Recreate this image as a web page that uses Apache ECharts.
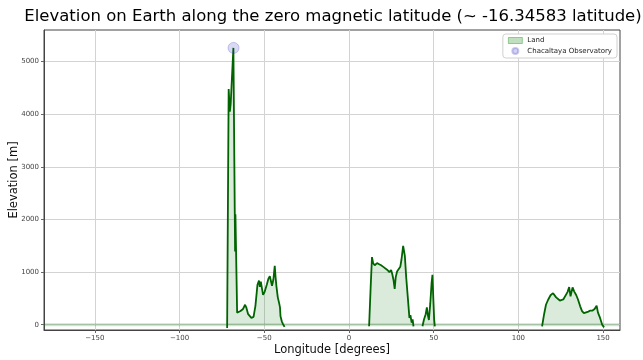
<!DOCTYPE html>
<html>
<head>
<meta charset="utf-8">
<script src="https://cdn.jsdelivr.net/npm/echarts@6/dist/echarts.min.js"></script>
<style>
  html, body { margin: 0; padding: 0; background: #fff; }
  #chart { width: 643px; height: 360px; }
</style>
</head>
<body>
<div id="chart"></div>
<script>
// Elevation profile along the magnetic equator (~ -16.34583 latitude)
const southAmericaLon = [-71.9, -71.0, -70.3, -69.8, -68.2, -67.4, -67.2, -67.0, -66.0, -65.0, -64.0, -62.5, -61.3, -60.5, -59.5, -57.6, -56.3, -55.2, -54.0, -53.1, -52.6, -52.0, -51.3, -50.7, -49.8, -48.5, -47.5, -46.7, -45.4, -44.6, -43.8, -43.3, -42.8, -42.0, -41.2, -40.7, -40.4, -39.6, -38.9, -38.0];
const southAmericaElev = [-60, 4480, 4050, 4200, 5260, 2150, 1390, 2100, 230, 250, 260, 300, 380, 320, 200, 130, 150, 360, 760, 840, 720, 820, 680, 570, 620, 760, 880, 920, 740, 860, 1120, 900, 730, 520, 410, 330, 160, 60, 10, -40];

const africaLon = [11.9, 12.8, 13.6, 14.3, 15.2, 16.6, 17.8, 19.0, 20.5, 21.5, 22.5, 23.9, 24.9, 25.6, 26.3, 27.0, 27.6, 28.4, 29.4, 30.3, 31.0, 32.0, 33.0, 33.8, 34.7, 35.7, 36.3, 37.0, 37.6, 38.1];
const africaElev = [-30, 700, 1285, 1170, 1130, 1170, 1150, 1130, 1095, 1070, 1045, 1000, 1040, 960, 850, 680, 900, 1010, 1000, 1100, 1235, 1500, 1310, 900, 540, 130, 180, 40, 100, -30];

const madagascarLon = [43.4, 44.3, 45.3, 46.0, 46.6, 47.2, 48.0, 48.8, 49.3, 49.8, 50.3, 50.7];
const madagascarElev = [-30, 100, 200, 330, 180, 90, 400, 800, 950, 500, 100, -30];

const australiaLon = [114.0, 115.2, 116.3, 117.5, 119.0, 120.5, 121.3, 122.3, 123.3, 124.5, 125.5, 126.5, 127.6, 129.0, 130.0, 130.8, 132.0, 133.0, 134.2, 135.2, 136.5, 137.6, 138.7, 139.8, 141.3, 142.5, 143.8, 145.0, 146.2, 147.0, 148.0, 149.5, 150.6];
const australiaElev = [-30, 200, 380, 470, 560, 600, 570, 520, 500, 460, 450, 480, 450, 620, 715, 540, 710, 630, 560, 480, 350, 260, 220, 240, 250, 270, 270, 300, 360, 230, 150, 0, -50];

const observatoryLon = [-68.13];
const observatoryElev = [5260];

const xTicks = [-150, -100, -50, 0, 50, 100, 150];
const yTicks = [0, 1000, 2000, 3000, 4000, 5000];

const pairs = (xs, ys) => xs.map((x, i) => [x, ys[i]]);
const minus = v => String(v).replace('-', '\u2212');

const landLine = '#006400';
const landFill = 'rgba(0,110,0,0.2)';
const font = 'DejaVu Sans';

function landSeries(data) {
  return {
    name: 'Land',
    type: 'line',
    data: data,
    symbol: 'none',
    lineStyle: { color: landLine, width: 1.8 },
    itemStyle: { color: landLine },
    areaStyle: { color: landFill, origin: 0 },
    z: 3
  };
}

const chart = echarts.init(document.getElementById('chart'), null, { renderer: 'canvas' });
chart.setOption({
  animation: false,
  title: {
    text: 'Elevation on Earth along the zero magnetic latitude (~ -16.34583 latitude)',
    left: 328, textAlign: 'center', top: 3,
    textStyle: { fontFamily: font, fontSize: 16.5, fontWeight: 'normal', color: '#000' }
  },
  grid: {
    left: 44, right: 23, top: 30, bottom: 30,
    outerBoundsMode: 'none', containLabel: false,
    show: true, borderColor: '#444', borderWidth: 1, backgroundColor: 'transparent'
  },
  legend: {
    right: 26, top: 34,
    orient: 'vertical',
    itemGap: 3, itemWidth: 14, itemHeight: 6,
    padding: [3, 5, 3, 5],
    borderColor: '#d0d0d0', borderWidth: 1, borderRadius: 3,
    backgroundColor: '#fff',
    textStyle: { fontFamily: font, fontSize: 7, color: '#222' },
    data: [
      { name: 'Land', icon: 'rect', itemStyle: { color: 'rgba(0,128,0,0.25)', borderColor: 'rgba(0,128,0,0.35)', borderWidth: 1 } },
      { name: 'Chacaltaya Observatory', icon: 'circle', itemStyle: { color: 'rgba(40,40,190,0.25)' } }
    ]
  },
  xAxis: {
    type: 'value', min: -180, max: 160,
    name: 'Longitude [degrees]', nameLocation: 'middle', nameGap: 14, nameMoveOverlap: false,
    nameTextStyle: { fontFamily: font, fontSize: 11.5, color: '#111' },
    axisLine: { onZero: false, lineStyle: { color: '#444' } },
    axisTick: { show: true, length: 3, customValues: xTicks, lineStyle: { color: '#666' } },
    axisLabel: { customValues: xTicks, fontFamily: font, fontSize: 7, color: '#444', margin: 5, formatter: minus },
    splitLine: { show: true, lineStyle: { color: '#d3d3d3', width: 1 } }
  },
  yAxis: {
    type: 'value', min: -100, max: 5600,
    name: 'Elevation [m]', nameLocation: 'middle', nameGap: 24, nameMoveOverlap: false,
    nameTextStyle: { fontFamily: font, fontSize: 11.5, color: '#111' },
    axisLine: { show: true, onZero: false, lineStyle: { color: '#444' } },
    axisTick: { show: true, length: 3, customValues: yTicks, lineStyle: { color: '#666' } },
    axisLabel: { customValues: yTicks, fontFamily: font, fontSize: 7, color: '#444', margin: 5, formatter: minus },
    splitLine: { show: true, lineStyle: { color: '#d3d3d3', width: 1 } }
  },
  series: [
    {
      name: 'sea level',
      type: 'line',
      data: [[-180, 0], [160, 0]],
      symbol: 'none', silent: true,
      lineStyle: { color: 'rgba(0,128,0,0.2)', width: 3 },
      z: 2
    },
    landSeries(pairs(southAmericaLon, southAmericaElev)),
    landSeries(pairs(africaLon, africaElev)),
    landSeries(pairs(madagascarLon, madagascarElev)),
    landSeries(pairs(australiaLon, australiaElev)),
    {
      name: 'Chacaltaya Observatory',
      type: 'scatter',
      data: pairs(observatoryLon, observatoryElev),
      symbol: 'circle', symbolSize: 11,
      itemStyle: { color: 'rgba(40,40,190,0.22)', borderColor: 'rgba(40,40,190,0.3)', borderWidth: 1 },
      z: 4
    }
  ]
});
</script>
</body>
</html>
